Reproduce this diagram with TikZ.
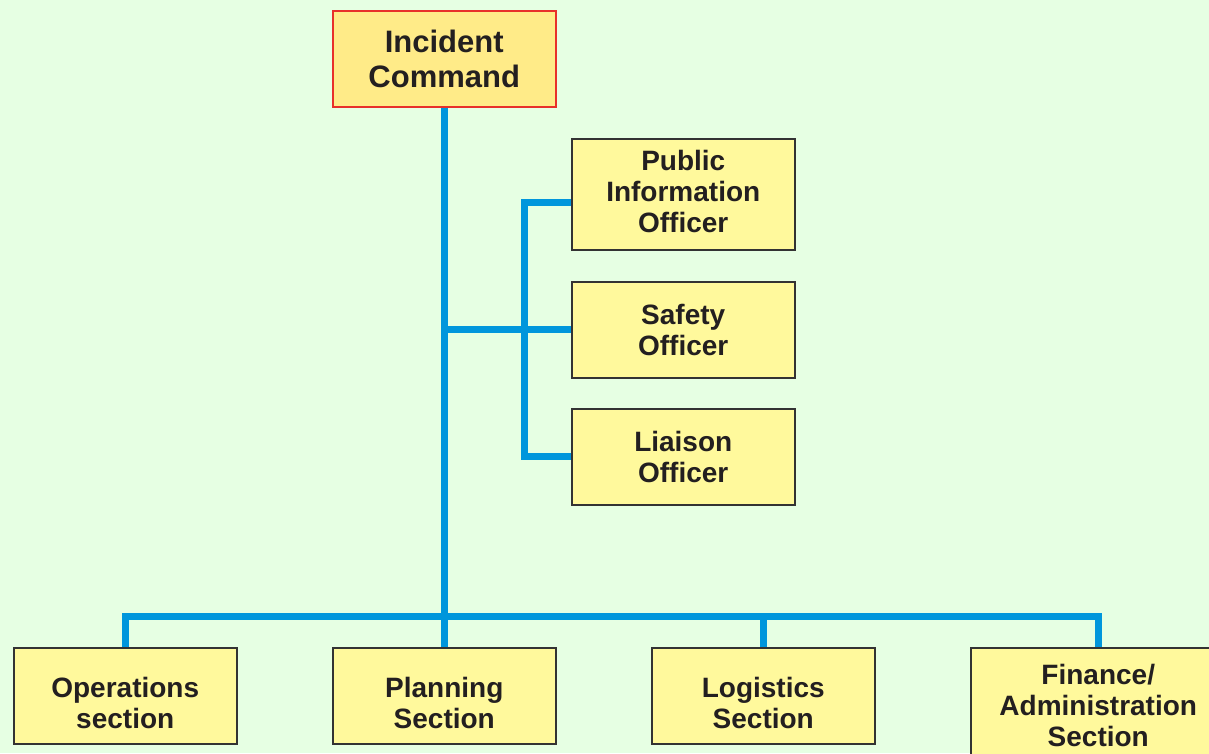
\documentclass[tikz,border=0pt]{standalone}
\usepackage{fontspec}
\setmainfont{Liberation Sans}
\definecolor{bg}{HTML}{E6FFE3}
\definecolor{icfill}{HTML}{FFEB88}
\definecolor{boxfill}{HTML}{FFF99C}
\definecolor{icborder}{HTML}{E8302A}
\definecolor{boxborder}{HTML}{333333}
\definecolor{txt}{HTML}{231F20}
\definecolor{wire}{HTML}{0096DC}
\begin{document}
\begin{tikzpicture}[x=1pt,y=-1pt,
  box/.style={draw=boxborder,line width=1.5pt,fill=boxfill,anchor=north west,
    minimum width=223pt,minimum height=96pt,inner sep=0pt,align=center,
    text=txt,font=\fontsize{28}{31}\selectfont\bfseries},
  lbl/.style={align=center,text=txt,inner sep=0pt,font=\fontsize{28}{31}\selectfont\bfseries},
  icbox/.style={box,draw=icborder,fill=icfill,font=\fontsize{31}{35}\selectfont\bfseries},
  conn/.style={draw=wire,line width=7pt}]
\useasboundingbox (0,0) rectangle (1209,753);
\fill[bg] (0,0) rectangle (1209,753);
\clip (0,0) rectangle (1209,753);
\node[icbox] (IC) at (332,10) {Incident\\Command};
\node[box,minimum height=111pt,label={[lbl,yshift=2.5pt]center:Public\\Information\\Officer}] (PIO) at (571,138) {};
\node[box] (SO) at (571,281) {Safety\\Officer};
\node[box] (LO) at (571,408) {Liaison\\Officer};
\node[box,label={[lbl,yshift=-7pt]center:Operations\\section}] (OPS) at (13,647) {};
\node[box,label={[lbl,yshift=-7pt]center:Planning\\Section}] (PLN) at (332,647) {};
\node[box,label={[lbl,yshift=-7pt]center:Logistics\\Section}] (LOG) at (651,647) {};
\node[box,minimum width=255pt,minimum height=116pt] (FIN) at (970,647) {Finance/\\Administration\\Section};
\coordinate (sx) at (524,0);
\coordinate (by) at (0,616);
\coordinate (pioj) at ([yshift=-8.5pt]PIO.west);
% main trunk
\draw[conn] (IC.south) -- (PLN.north);
\draw[conn] (IC.south |- SO.west) -- (SO.west);
\draw[conn] (pioj) -- (pioj -| sx) -- (LO.west -| sx) -- (LO.west);
% bottom bus
\draw[conn] (OPS.north) -- (OPS.north |- by) -- (FIN.north |- by) -- (FIN.north);
\draw[conn] (LOG.north |- by) -- (LOG.north);
\end{tikzpicture}
\end{document}
